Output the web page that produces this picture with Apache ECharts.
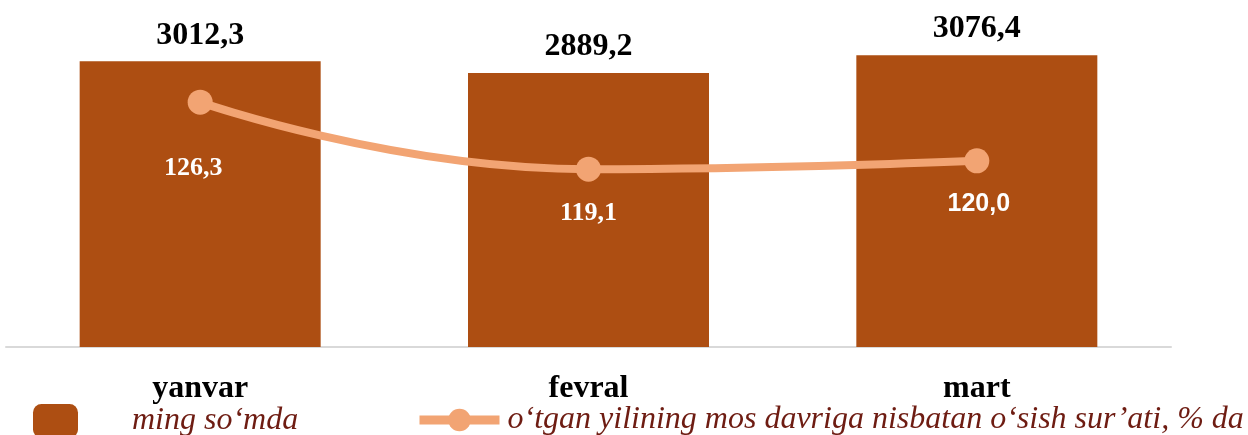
<!DOCTYPE html>
<html><head><meta charset="utf-8">
<script src="https://cdn.jsdelivr.net/npm/echarts@6/dist/echarts.min.js"></script>
<style>html,body{margin:0;padding:0;background:#fff}#c{width:1248px;height:435px}</style>
</head><body><div id="c"></div>
<script>
const categories = ['yanvar', 'fevral', 'mart'];
const barValues = [3012.3, 2889.2, 3076.4];
const lineValues = [126.3, 119.1, 120.0];
const barName = 'ming so‘mda';
const lineName = 'o‘tgan yilining mos davriga nisbatan o‘sish sur’ati, % da';

const fmt = v => v.toFixed(1).replace('.', ',');
const lineLabelOffsets = [[-7, 66], [0, 44], [2, 43]];
const lineLabelFonts = ['Liberation Serif', 'Liberation Serif', 'Liberation Sans'];
const lineLabelSizes = [26, 26, 25];

const chart = echarts.init(document.getElementById('c'), null, {renderer: 'canvas'});
chart.setOption({
  animation: false,
  grid: {left: 6, right: 77, top: 15, bottom: 88, containLabel: false},
  legend: [{
    data: [{name: barName}],
    left: 33, top: 404, padding: 0, itemWidth: 45, itemHeight: 34, itemGap: 0,
    icon: 'roundRect',
    textStyle: {fontFamily: 'Liberation Serif', fontStyle: 'italic', fontSize: 32, color: '#6E1C12', padding: [0, 0, 0, 49]}
  }, {
    data: [{name: lineName}],
    left: 415, top: 404, padding: 0, itemWidth: 80, itemHeight: 28, itemGap: 0,
    lineStyle: {width: 9},
    textStyle: {fontFamily: 'Liberation Serif', fontStyle: 'italic', fontSize: 32, color: '#6E1C12', padding: [0, 0, 0, 3]}
  }],
  xAxis: {
    type: 'category', data: categories,
    axisLine: {lineStyle: {color: '#D9D9D9', width: 2}},
    axisTick: {show: false},
    axisLabel: {margin: 26, fontFamily: 'Liberation Serif', fontWeight: 'bold', fontSize: 32, color: '#000'}
  },
  yAxis: [
    {type: 'value', min: 0, max: 3500, show: false},
    {type: 'value', min: 100, max: 135.66, show: false}
  ],
  series: [{
    name: barName, type: 'bar', data: barValues, barWidth: 241,
    itemStyle: {color: '#AD4E12'},
    label: {show: true, position: 'top', distance: 10, formatter: p => fmt(p.value),
      fontFamily: 'Liberation Serif', fontWeight: 'bold', fontSize: 32, color: '#000'}
  }, {
    name: lineName, type: 'line', yAxisIndex: 1, smooth: true,
    data: lineValues.map((v, i) => ({
      value: v,
      label: {offset: lineLabelOffsets[i], fontFamily: lineLabelFonts[i], fontSize: lineLabelSizes[i]}
    })),
    symbol: 'circle', symbolSize: 25,
    lineStyle: {color: '#F2A473', width: 8},
    itemStyle: {color: '#F2A473'},
    label: {show: true, position: 'inside', formatter: p => fmt(p.value),
      fontFamily: 'Liberation Serif', fontSize: 26, fontWeight: 'bold', color: '#fff'}
  }]
});
</script></body></html>
